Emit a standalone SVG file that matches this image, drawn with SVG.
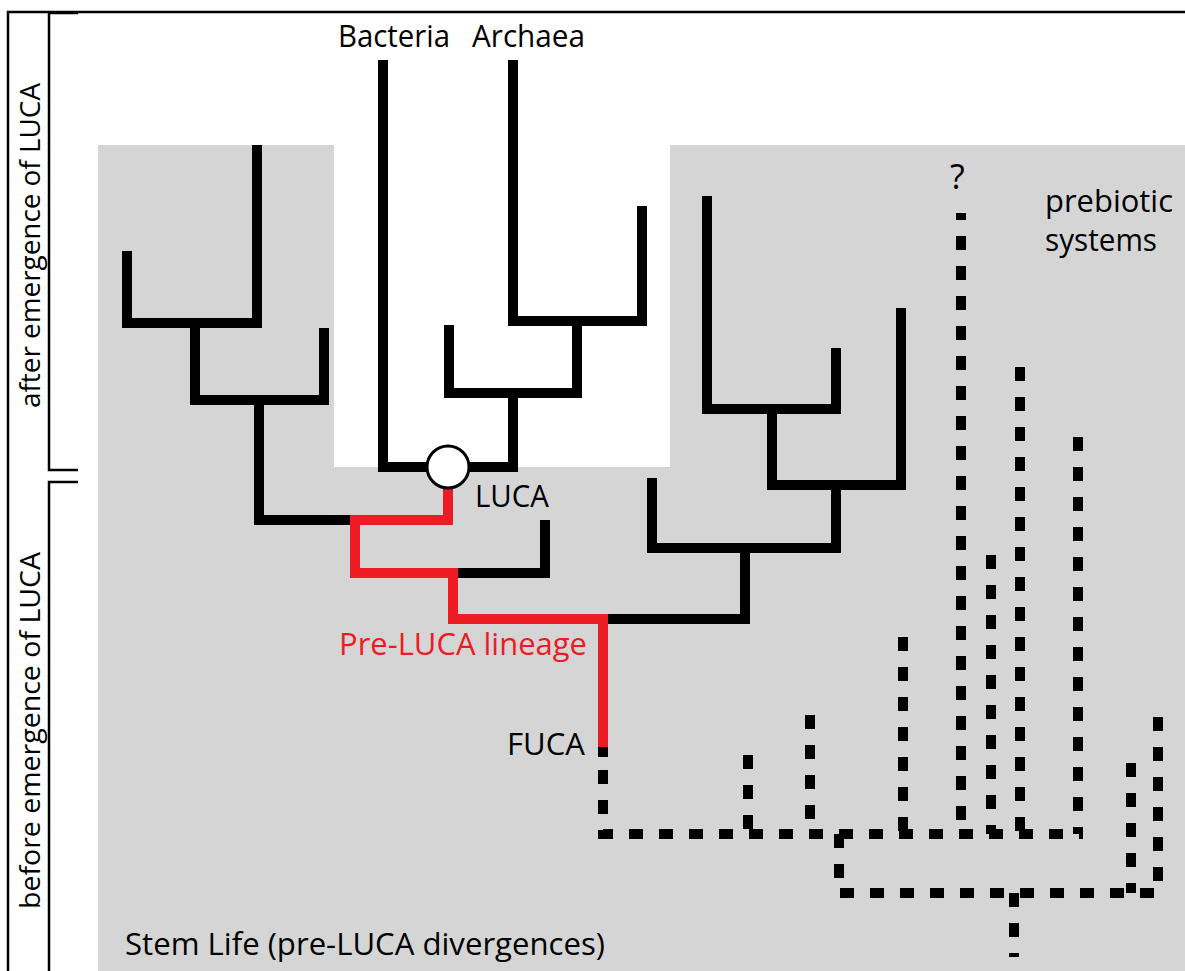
<svg xmlns="http://www.w3.org/2000/svg" width="1185" height="971" viewBox="0 0 1185 971">
<style>
.t{font-family:"Open Sans","Liberation Sans",sans-serif;font-size:31px;fill:#000}
.br{fill:none;stroke:#000;stroke-width:10;stroke-linejoin:miter;stroke-linecap:butt}
.red{fill:none;stroke:#ED1C24;stroke-width:10;stroke-linejoin:miter;stroke-linecap:butt}
.dash{fill:none;stroke:#000;stroke-width:10;stroke-dasharray:14 16;stroke-linecap:butt}
.frame{fill:none;stroke:#000;stroke-width:2.5}
</style>
<rect width="1185" height="971" fill="#fff"/>
<g id="background">
<path d="M98,145 H334 V467 H670 V145 H1185 V971 H98 Z" fill="#D5D5D5"/>
</g>
<g id="frame">
<path class="frame" d="M8,971 V12 H1185"/>
<path class="frame" d="M78,13 H49 V470 H78"/>
<path class="frame" d="M78,482 H49 V971"/>
</g>
<g id="axis-labels">
<text class="t" font-size="28" style="font-size:28px" textLength="325" lengthAdjust="spacingAndGlyphs" transform="translate(40,408) rotate(-90)">after emergence of LUCA</text>
<text class="t" font-size="28" style="font-size:28px" textLength="357" lengthAdjust="spacingAndGlyphs" transform="translate(40,909) rotate(-90)">before emergence of LUCA</text>
</g>
<g id="connectors">
<g id="left-tree">
<path class="br" d="M127,251 V323 H257 V145"/>
<path class="br" d="M195,323 V400 H324 V328"/>
<path class="br" d="M259,400 V520 H355"/>
</g>
<g id="center-tree">
<path class="br" d="M383,60 V467 H513 V393"/>
<path class="br" d="M449,325 V393 H577 V321"/>
<path class="br" d="M513,60 V321 H642 V206"/>
</g>
<g id="right-tree">
<path class="br" d="M707,196 V409 H836 V348"/>
<path class="br" d="M772,409 V485 H901 V308"/>
<path class="br" d="M652,478 V548 H836 V485"/>
<path class="br" d="M603,619 H745 V548"/>
<path class="br" d="M453,573 H545 V520"/>
</g>
<g id="pre-luca-lineage">
<path class="red" d="M448,488 V520 H355 V573 H453 V619 H603 V748"/>
</g>
<g id="stem-life">
<path class="br" d="M603,747 V757"/>
<path class="dash" d="M603,757 V834 H1083" stroke-dashoffset="-13"/>
<path class="dash" d="M748,755 V834"/>
<path class="dash" d="M810,715 V834"/>
<path class="dash" d="M903,637 V834"/>
<path class="dash" d="M961,213 V834" stroke-dashoffset="7"/>
<path class="dash" d="M991,555 V834"/>
<path class="dash" d="M1020,367 V834"/>
<path class="dash" d="M1078,437 V834"/>
<path class="dash" d="M839,834 V893 H1158 V707"/>
<path class="dash" d="M1131,763 V893"/>
<path class="dash" d="M1014,893 V957"/>
</g>
</g>
<g id="luca">
<circle cx="448" cy="467" r="21" fill="#fff" stroke="#000" stroke-width="3"/>
<text class="t" x="475" y="507" textLength="74" lengthAdjust="spacingAndGlyphs">LUCA</text>
</g>
<g id="bacteria"><text class="t" x="338" y="47" textLength="112" lengthAdjust="spacingAndGlyphs">Bacteria</text></g>
<g id="archaea"><text class="t" x="472" y="47" textLength="113" lengthAdjust="spacingAndGlyphs">Archaea</text></g>
<g id="question"><text class="t" x="950" y="189" style="font-size:34px">?</text></g>
<g id="prebiotic"><text class="t" x="1045" y="212" textLength="128" lengthAdjust="spacingAndGlyphs">prebiotic</text><text class="t" x="1045" y="251" textLength="112" lengthAdjust="spacingAndGlyphs">systems</text></g>
<g id="pre-luca-label"><text class="t" x="339" y="655" style="fill:#ED1C24" textLength="248" lengthAdjust="spacingAndGlyphs">Pre-LUCA lineage</text></g>
<g id="fuca"><text class="t" x="507" y="755" textLength="78" lengthAdjust="spacingAndGlyphs">FUCA</text></g>
<g id="stem-life-label"><text class="t" x="125" y="955" textLength="480" lengthAdjust="spacingAndGlyphs">Stem Life (pre-LUCA divergences)</text></g>
</svg>
